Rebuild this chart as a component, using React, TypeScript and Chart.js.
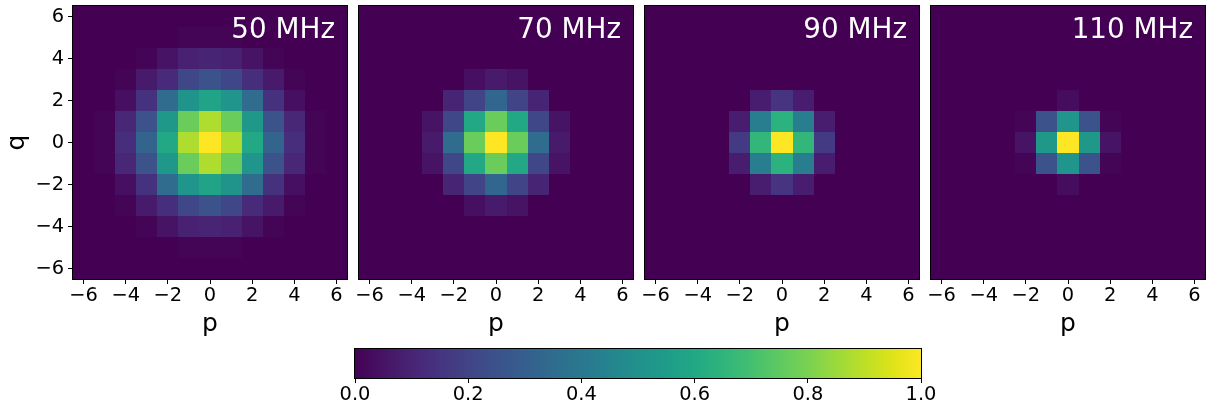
import { useEffect, useRef } from 'react';
import { Chart, registerables } from 'chart.js';

Chart.register(...registerables);

// ---------------- data ----------------
const P_VALUES = [-6, -5, -4, -3, -2, -1, 0, 1, 2, 3, 4, 5, 6];
const Q_VALUES = [6, 5, 4, 3, 2, 1, 0, -1, -2, -3, -4, -5, -6]; // rows, top to bottom
const AXIS_TICKS = [-6, -4, -2, 0, 2, 4, 6];
const COLORBAR_TICKS = [0, 0.2, 0.4, 0.6, 0.8, 1.0];
const PANEL_LABELS = ['50 MHz', '70 MHz', '90 MHz', '110 MHz'];

const BEAM_50MHZ = [
  [0, 0, 0, 0, 0, 0, 0, 0, 0, 0, 0, 0, 0],
  [0, 0, 0, 0, 0, 0.01, 0.01, 0.01, 0, 0, 0, 0, 0],
  [0, 0, 0, 0.01, 0.05, 0.09, 0.1, 0.09, 0.05, 0.01, 0, 0, 0],
  [0, 0, 0.01, 0.07, 0.12, 0.21, 0.25, 0.21, 0.13, 0.07, 0.01, 0, 0],
  [0, 0, 0.04, 0.14, 0.35, 0.51, 0.58, 0.52, 0.35, 0.14, 0.04, 0, 0],
  [0, 0.01, 0.11, 0.25, 0.53, 0.77, 0.88, 0.77, 0.53, 0.25, 0.11, 0.01, 0],
  [0, 0.01, 0.13, 0.32, 0.6, 0.88, 1.0, 0.88, 0.6, 0.32, 0.13, 0.01, 0],
  [0, 0.01, 0.11, 0.25, 0.53, 0.77, 0.88, 0.77, 0.52, 0.25, 0.11, 0.01, 0],
  [0, 0, 0.04, 0.14, 0.35, 0.52, 0.58, 0.51, 0.35, 0.14, 0.04, 0, 0],
  [0, 0, 0.01, 0.07, 0.13, 0.21, 0.25, 0.21, 0.12, 0.07, 0.01, 0, 0],
  [0, 0, 0, 0.01, 0.05, 0.09, 0.1, 0.09, 0.05, 0.01, 0, 0, 0],
  [0, 0, 0, 0, 0, 0.01, 0.01, 0.01, 0, 0, 0, 0, 0],
  [0, 0, 0, 0, 0, 0, 0, 0, 0, 0, 0, 0, 0],
];

const BEAM_70MHZ = [
  [0, 0, 0, 0, 0, 0, 0, 0, 0, 0, 0, 0, 0],
  [0, 0, 0, 0, 0, 0, 0, 0, 0, 0, 0, 0, 0],
  [0, 0, 0, 0, 0, 0, 0, 0, 0, 0, 0, 0, 0],
  [0, 0, 0, 0, 0, 0.04, 0.07, 0.05, 0, 0, 0, 0, 0],
  [0, 0, 0, 0, 0.1, 0.2, 0.33, 0.2, 0.1, 0, 0, 0, 0],
  [0, 0, 0, 0.05, 0.21, 0.6, 0.77, 0.6, 0.21, 0.05, 0, 0, 0],
  [0, 0, 0, 0.07, 0.35, 0.77, 1.0, 0.77, 0.35, 0.07, 0, 0, 0],
  [0, 0, 0, 0.05, 0.21, 0.6, 0.77, 0.6, 0.21, 0.05, 0, 0, 0],
  [0, 0, 0, 0, 0.1, 0.2, 0.33, 0.2, 0.1, 0, 0, 0, 0],
  [0, 0, 0, 0, 0, 0.04, 0.07, 0.05, 0, 0, 0, 0, 0],
  [0, 0, 0, 0, 0, 0, 0, 0, 0, 0, 0, 0, 0],
  [0, 0, 0, 0, 0, 0, 0, 0, 0, 0, 0, 0, 0],
  [0, 0, 0, 0, 0, 0, 0, 0, 0, 0, 0, 0, 0],
];

const BEAM_90MHZ = [
  [0, 0, 0, 0, 0, 0, 0, 0, 0, 0, 0, 0, 0],
  [0, 0, 0, 0, 0, 0, 0, 0, 0, 0, 0, 0, 0],
  [0, 0, 0, 0, 0, 0, 0, 0, 0, 0, 0, 0, 0],
  [0, 0, 0, 0, 0, 0, 0, 0, 0, 0, 0, 0, 0],
  [0, 0, 0, 0, 0, 0.08, 0.15, 0.08, 0, 0, 0, 0, 0],
  [0, 0, 0, 0, 0.08, 0.42, 0.64, 0.42, 0.08, 0, 0, 0, 0],
  [0, 0, 0, 0, 0.17, 0.66, 1.0, 0.66, 0.17, 0, 0, 0, 0],
  [0, 0, 0, 0, 0.08, 0.42, 0.64, 0.42, 0.08, 0, 0, 0, 0],
  [0, 0, 0, 0, 0, 0.08, 0.15, 0.08, 0, 0, 0, 0, 0],
  [0, 0, 0, 0, 0, 0, 0, 0, 0, 0, 0, 0, 0],
  [0, 0, 0, 0, 0, 0, 0, 0, 0, 0, 0, 0, 0],
  [0, 0, 0, 0, 0, 0, 0, 0, 0, 0, 0, 0, 0],
  [0, 0, 0, 0, 0, 0, 0, 0, 0, 0, 0, 0, 0],
];

const BEAM_110MHZ = [
  [0, 0, 0, 0, 0, 0, 0, 0, 0, 0, 0, 0, 0],
  [0, 0, 0, 0, 0, 0, 0, 0, 0, 0, 0, 0, 0],
  [0, 0, 0, 0, 0, 0, 0, 0, 0, 0, 0, 0, 0],
  [0, 0, 0, 0, 0, 0, 0, 0, 0, 0, 0, 0, 0],
  [0, 0, 0, 0, 0, 0, 0.03, 0, 0, 0, 0, 0, 0],
  [0, 0, 0, 0, 0.01, 0.25, 0.52, 0.25, 0.01, 0, 0, 0, 0],
  [0, 0, 0, 0, 0.05, 0.53, 1.0, 0.53, 0.05, 0, 0, 0, 0],
  [0, 0, 0, 0, 0.01, 0.25, 0.52, 0.25, 0.01, 0, 0, 0, 0],
  [0, 0, 0, 0, 0, 0, 0.03, 0, 0, 0, 0, 0, 0],
  [0, 0, 0, 0, 0, 0, 0, 0, 0, 0, 0, 0, 0],
  [0, 0, 0, 0, 0, 0, 0, 0, 0, 0, 0, 0, 0],
  [0, 0, 0, 0, 0, 0, 0, 0, 0, 0, 0, 0, 0],
  [0, 0, 0, 0, 0, 0, 0, 0, 0, 0, 0, 0, 0],
];

const PANEL_DATA = [BEAM_50MHZ, BEAM_70MHZ, BEAM_90MHZ, BEAM_110MHZ];

// ---------------- styles ----------------
const VIRIDIS = [
  '#440154', '#471365', '#482475', '#463480', '#414487', '#3b528b', '#355f8d',
  '#2f6c8e', '#2a788e', '#25848e', '#21918c', '#1e9c89', '#22a884', '#2fb47c',
  '#44bf70', '#5ec962', '#7ad151', '#9bd93c', '#bddf26', '#dfe318', '#fde725',
];

const W = 1208;
const H = 410;
const FONT = '"DejaVu Sans", "Liberation Sans", sans-serif';
const TICK_SIZE = 19.4;
const LABEL_SIZE = 25;
const PANEL_LEFT = [73, 359, 645, 931];
const PANEL_TOP = 6;
const PANEL_W = 274;
const PANEL_H = 273;
const XAXIS_H = 56;
const CB_LEFT = 355;
const CB_RIGHT = 921;
const CB_TOP = 349;
const CB_BOTTOM = 378;
const CB_AXIS_H = 25;

function hexToRgb(h: string) {
  return [parseInt(h.slice(1, 3), 16), parseInt(h.slice(3, 5), 16), parseInt(h.slice(5, 7), 16)];
}
const VIRIDIS_RGB = VIRIDIS.map(hexToRgb);

function viridis(v: number) {
  const t = Math.max(0, Math.min(1, v)) * (VIRIDIS_RGB.length - 1);
  const i = Math.min(Math.floor(t), VIRIDIS_RGB.length - 2);
  const f = t - i;
  const a = VIRIDIS_RGB[i];
  const b = VIRIDIS_RGB[i + 1];
  const c = a.map((x, k) => Math.round(x + (b[k] - x) * f));
  return `rgb(${c[0]},${c[1]},${c[2]})`;
}

const fmtTick = (v: number) => (v < 0 ? '\u2212' + Math.abs(v) : String(v));

const zeroPadding = (s: any) => {
  s.paddingTop = 0;
  s.paddingBottom = 0;
  s.paddingLeft = 0;
  s.paddingRight = 0;
};

const heatmapPlugin = {
  id: 'heatmap',
  beforeDatasetsDraw(chart: any) {
    const { ctx, scales } = chart;
    const x = scales.x;
    const y = scales.y;
    const cells = chart.data.datasets[0].data as any[];
    ctx.save();
    for (const c of cells) {
      const x0 = Math.round(x.getPixelForValue(c.x - 0.5));
      const x1 = Math.round(x.getPixelForValue(c.x + 0.5));
      const y0 = Math.round(y.getPixelForValue(c.y + 0.5));
      const y1 = Math.round(y.getPixelForValue(c.y - 0.5));
      ctx.fillStyle = viridis(c.v);
      ctx.fillRect(x0, y0, x1 - x0, y1 - y0);
    }
    ctx.restore();
  },
  afterDraw(chart: any, _args: any, opts: any) {
    const { ctx, chartArea } = chart;
    ctx.save();
    if (opts && opts.label) {
      ctx.font = `27.8px ${FONT}`;
      ctx.fillStyle = '#ffffff';
      ctx.textAlign = 'right';
      ctx.textBaseline = 'alphabetic';
      ctx.fillText(opts.label, chartArea.right - 12, chartArea.top + 32);
    }
    ctx.strokeStyle = '#000';
    ctx.lineWidth = 1;
    ctx.strokeRect(chartArea.left - 0.5, chartArea.top - 0.5, chartArea.right - chartArea.left + 1, chartArea.bottom - chartArea.top + 1);
    ctx.restore();
  },
};

const colorbarPlugin = {
  id: 'colorbar',
  beforeDatasetsDraw(chart: any) {
    const { ctx, chartArea, scales } = chart;
    const x = scales.x;
    const x0 = x.getPixelForValue(0);
    const x1 = x.getPixelForValue(1);
    const g = ctx.createLinearGradient(x0, 0, x1, 0);
    VIRIDIS.forEach((c, i) => g.addColorStop(i / (VIRIDIS.length - 1), c));
    ctx.save();
    ctx.fillStyle = g;
    ctx.fillRect(x0, chartArea.top, x1 - x0, chartArea.bottom - chartArea.top);
    ctx.restore();
  },
  afterDraw(chart: any) {
    const { ctx, chartArea } = chart;
    ctx.save();
    ctx.strokeStyle = '#000';
    ctx.lineWidth = 1;
    ctx.strokeRect(chartArea.left - 0.5, chartArea.top - 0.5, chartArea.right - chartArea.left + 1, chartArea.bottom - chartArea.top + 1);
    ctx.restore();
  },
};

function buildCells(grid: number[][]) {
  const cells: { x: number; y: number; v: number }[] = [];
  Q_VALUES.forEach((q, r) => {
    P_VALUES.forEach((p, c) => {
      cells.push({ x: p, y: q, v: grid[r][c] });
    });
  });
  return cells;
}

function panelConfig(i: number): any {
  const showY = i === 0;
  const left = PANEL_LEFT[i];
  return {
    type: 'scatter',
    data: { datasets: [{ data: buildCells(PANEL_DATA[i]), pointRadius: 0, pointHoverRadius: 0 }] },
    options: {
      responsive: false,
      animation: false,
      events: [],
      layout: {
        padding: {
          left: showY ? 0 : left,
          right: W - left - PANEL_W,
          top: PANEL_TOP,
          bottom: H - PANEL_TOP - PANEL_H - XAXIS_H,
        },
      },
      plugins: {
        legend: { display: false },
        tooltip: { enabled: false },
        heatmap: { label: PANEL_LABELS[i] },
      },
      scales: {
        x: {
          type: 'linear',
          min: -6.5,
          max: 6.5,
          afterBuildTicks: (s: any) => {
            s.ticks = AXIS_TICKS.map((v) => ({ value: v }));
          },
          afterFit: (s: any) => {
            s.height = XAXIS_H;
            zeroPadding(s);
          },
          ticks: {
            autoSkip: false,
            maxRotation: 0,
            padding: 0,
            color: '#000',
            font: { family: FONT, size: TICK_SIZE },
            callback: (v: number) => fmtTick(v),
          },
          grid: { display: true, drawOnChartArea: false, drawTicks: true, tickLength: 5, color: '#000', lineWidth: 1 },
          border: { display: false },
          title: { display: true, text: 'p', color: '#000', padding: { top: 0, bottom: -4 }, font: { family: FONT, size: LABEL_SIZE } },
        },
        y: {
          type: 'linear',
          display: showY,
          min: -6.5,
          max: 6.5,
          afterBuildTicks: (s: any) => {
            s.ticks = AXIS_TICKS.map((v) => ({ value: v }));
          },
          afterFit: (s: any) => {
            s.width = showY ? left : 0;
            zeroPadding(s);
          },
          ticks: {
            autoSkip: false,
            padding: 4,
            color: '#000',
            font: { family: FONT, size: TICK_SIZE },
            callback: (v: number) => fmtTick(v),
          },
          grid: { display: true, drawOnChartArea: false, drawTicks: true, tickLength: 5, color: '#000', lineWidth: 1 },
          border: { display: false },
          title: { display: true, text: 'q', color: '#000', padding: { top: 2, bottom: 0 }, font: { family: FONT, size: LABEL_SIZE } },
        },
      },
    },
    plugins: [heatmapPlugin],
  };
}

function colorbarConfig(): any {
  return {
    type: 'scatter',
    data: { datasets: [{ data: [], pointRadius: 0 }] },
    options: {
      responsive: false,
      animation: false,
      events: [],
      layout: {
        padding: { left: CB_LEFT, right: W - CB_RIGHT, top: CB_TOP, bottom: H - CB_BOTTOM - CB_AXIS_H },
      },
      plugins: { legend: { display: false }, tooltip: { enabled: false } },
      scales: {
        x: {
          type: 'linear',
          min: 0,
          max: 1,
          afterBuildTicks: (s: any) => {
            s.ticks = COLORBAR_TICKS.map((v) => ({ value: v }));
          },
          afterFit: (s: any) => {
            s.height = CB_AXIS_H;
            zeroPadding(s);
          },
          ticks: {
            autoSkip: false,
            maxRotation: 0,
            padding: 0,
            color: '#000',
            font: { family: FONT, size: TICK_SIZE },
            callback: (v: number) => v.toFixed(1),
          },
          grid: { display: true, drawOnChartArea: false, drawTicks: true, tickLength: 5, color: '#000', lineWidth: 1 },
          border: { display: false },
        },
        y: { type: 'linear', display: false, min: 0, max: 1 },
      },
    },
    plugins: [colorbarPlugin],
  };
}

export default function App() {
  const refs = useRef<(HTMLCanvasElement | null)[]>([]);

  useEffect(() => {
    const charts: Chart[] = [];
    for (let i = 0; i < PANEL_DATA.length; i++) {
      const c = refs.current[i];
      if (c) charts.push(new Chart(c, panelConfig(i)));
    }
    const cb = refs.current[4];
    if (cb) charts.push(new Chart(cb, colorbarConfig()));
    return () => {
      charts.forEach((c) => c.destroy());
    };
  }, []);

  return (
    <div style={{ position: 'absolute', left: 0, top: 0, width: W, height: H, background: '#fff' }}>
      {[0, 1, 2, 3, 4].map((i) => (
        <canvas
          key={i}
          ref={(el) => {
            refs.current[i] = el;
          }}
          width={W}
          height={H}
          style={{ position: 'absolute', left: 0, top: 0, width: W, height: H }}
        />
      ))}
    </div>
  );
}
